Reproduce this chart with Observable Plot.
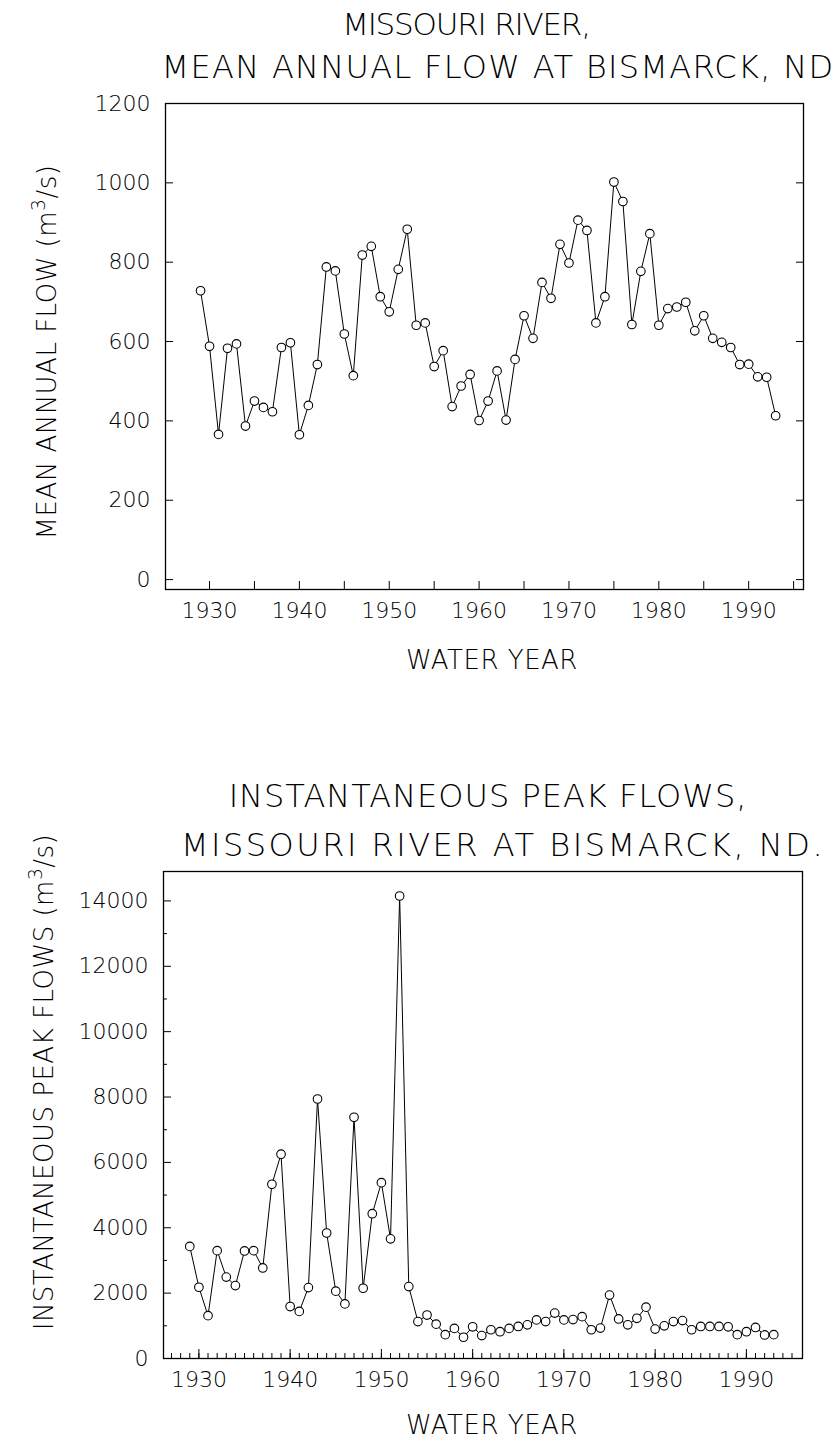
<!DOCTYPE html>
<html><head><meta charset="utf-8">
<script src="https://cdn.jsdelivr.net/npm/d3@7"></script>
<script src="https://cdn.jsdelivr.net/npm/@observablehq/plot@0.6"></script>
<style>
body{margin:0;background:#fff;}
#page{position:relative;width:836px;height:1443px;overflow:hidden;font-family:"DejaVu Sans",sans-serif;font-weight:200;color:#000;}
.t{position:absolute;white-space:nowrap;transform:translate(-50%,-50%);line-height:1;}
.yl{position:absolute;white-space:nowrap;transform:translate(-50%,-50%) rotate(-90deg);line-height:1;}
.yl sup{font-size:0.72em;vertical-align:0.6em;}
.box{position:absolute;left:0;}
</style></head><body>
<div id="page"></div>
<script>
// ---- data ----
const years = d3.range(1929, 1994);
const meanFlow = [728, 588, 366, 583, 594, 387, 450, 434, 423, 585,
                  597, 365, 439, 542, 788, 778, 619, 514, 818, 840,
                  713, 675, 782, 883, 641, 647, 537, 577, 436, 488,
                  517, 401, 450, 526, 402, 555, 665, 608, 749, 709,
                  845, 798, 906, 880, 647, 713, 1002, 953, 643, 777,
                  872, 641, 683, 687, 699, 627, 665, 608, 598, 585,
                  542, 543, 511, 510, 413];
const peakFlow = [3430, 2180, 1310, 3300, 2490, 2230, 3290, 3300, 2770, 5330,
                  6250, 1590, 1440, 2170, 7940, 3840, 2060, 1670, 7380, 2150,
                  4430, 5380, 3660, 14150, 2200, 1130, 1330, 1050, 730, 920,
                  650, 970, 700, 880, 820, 920, 980, 1030, 1180, 1130,
                  1390, 1180, 1190, 1280, 880, 930, 1940, 1210, 1030, 1230,
                  1570, 900, 1000, 1130, 1160, 880, 980, 980, 980, 970,
                  730, 820, 950, 720, 730];
const meanTicks = [0, 200, 400, 600, 800, 1000, 1200];
const topYearTicks = [1930, 1935, 1940, 1945, 1950, 1955, 1960, 1965, 1970, 1975, 1980, 1985, 1990, 1995];
const decadeLabels = [1930, 1940, 1950, 1960, 1970, 1980, 1990];
const peakTicks = [0, 2000, 4000, 6000, 8000, 10000, 12000, 14000];
const peakMinorTicks = [1000, 3000, 5000, 7000, 9000, 11000, 13000];
const bottomYearTicks = d3.range(1927, 1996);

const meanData = years.map((year, i) => ({year, flow: meanFlow[i]}));
const peakData = years.map((year, i) => ({year, flow: peakFlow[i]}));

const font = '"DejaVu Sans", sans-serif';
const fmt = d => String(d);

const topChart = Plot.plot({
  width: 836, height: 560,
  marginLeft: 165, marginRight: 33, marginTop: 13, marginBottom: 61,
  x: {domain: [1925.1, 1996.1]},
  y: {domain: [-25, 1200]},
  style: {fontFamily: font, fontSize: "22px", fontWeight: 200, color: "#000", background: "white", overflow: "visible"},
  marks: [
    Plot.frame({stroke: "#000", strokeWidth: 1.3}),
    Plot.axisY(meanTicks, {anchor: "left", tickSize: -8, fill: "none", label: null}),
    Plot.axisY(meanTicks, {anchor: "right", tickSize: -8, fill: "none", label: null}),
    Plot.axisY(meanTicks, {anchor: "left", tickSize: 0, tickPadding: 15, tickFormat: fmt, label: null, fontSize: 22}),
    Plot.axisX(topYearTicks, {anchor: "bottom", tickSize: -8, fill: "none", label: null}),
    Plot.axisX(decadeLabels, {anchor: "bottom", tickSize: 0, tickPadding: 13, tickFormat: fmt, label: null, fontSize: 22}),
    Plot.line(meanData, {x: "year", y: "flow", stroke: "#000", strokeWidth: 1}),
    Plot.dot(meanData, {x: "year", y: "flow", r: 4.3, fill: "white", stroke: "#000", strokeWidth: 1.1})
  ]
});

const bottomChart = Plot.plot({
  width: 836, height: 560,
  marginLeft: 163, marginRight: 34, marginTop: 11, marginBottom: 62,
  x: {domain: [1926.12, 1996.15]},
  y: {domain: [0, 14900]},
  style: {fontFamily: font, fontSize: "22px", fontWeight: 200, color: "#000", background: "white", overflow: "visible"},
  marks: [
    Plot.frame({stroke: "#000", strokeWidth: 1.3}),
    Plot.axisY(peakTicks, {anchor: "left", tickSize: -8, fill: "none", label: null}),
    Plot.axisY(peakMinorTicks, {anchor: "left", tickSize: -4, fill: "none", label: null}),
    Plot.axisY(peakTicks, {anchor: "left", tickSize: 0, tickPadding: 15, tickFormat: fmt, label: null, fontSize: 22}),
    Plot.axisX(bottomYearTicks, {anchor: "bottom", tickSize: -5, fill: "none", label: null}),
    Plot.axisX(decadeLabels, {anchor: "bottom", tickSize: -9, fill: "none", label: null}),
    Plot.axisX(decadeLabels, {anchor: "bottom", tickSize: 0, tickPadding: 13, tickFormat: fmt, label: null, fontSize: 22}),
    Plot.line(peakData, {x: "year", y: "flow", stroke: "#000", strokeWidth: 1}),
    Plot.dot(peakData, {x: "year", y: "flow", r: 4.3, fill: "white", stroke: "#000", strokeWidth: 1.1})
  ]
});

const page = document.getElementById("page");
function addText(cls, html, x, y, size, ls) {
  const d = document.createElement("div");
  d.className = cls;
  d.innerHTML = html;
  d.style.left = x + "px";
  d.style.top = y + "px";
  d.style.fontSize = size + "px";
  if (ls) d.style.letterSpacing = ls + "px";
  page.appendChild(d);
}
function addBox(el, top) {
  const d = document.createElement("div");
  d.className = "box";
  d.style.top = top + "px";
  d.appendChild(el);
  page.appendChild(d);
}
addBox(topChart, 90);
addBox(bottomChart, 860);

addText("t", "MISSOURI RIVER,", 466, 24, 31, -1.2);
addText("t", "MEAN ANNUAL FLOW AT BISMARCK, ND", 498, 67, 32, 1.3);
addText("yl", "MEAN ANNUAL FLOW (m<sup>3</sup>/s)", 45, 352, 26, 0.5);
addText("t", "WATER YEAR", 492, 660, 26, 0.5);

addText("t", "INSTANTANEOUS PEAK FLOWS,", 488, 796, 32, 1);
addText("t", "MISSOURI RIVER AT BISMARCK, ND.", 503, 845, 32, 2.5);
addText("yl", "INSTANTANEOUS PEAK FLOWS (m<sup>3</sup>/s)", 42, 1082, 26, 0.5);
addText("t", "WATER YEAR", 492, 1425, 26, 0.5);
</script>
</body></html>
